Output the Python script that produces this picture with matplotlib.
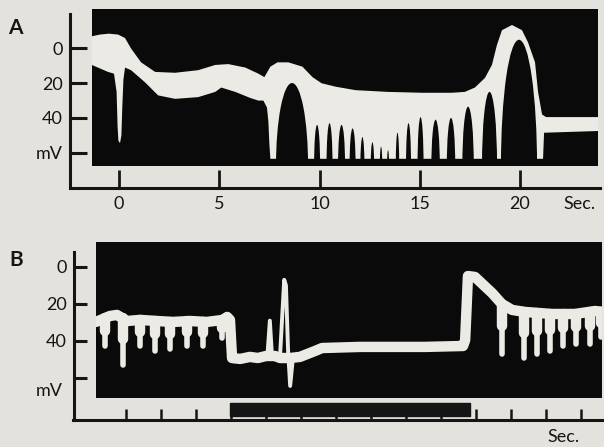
import matplotlib.pyplot as plt
from matplotlib.patches import Rectangle, Ellipse
import numpy as np

plt.rcParams['font.family'] = ['Lato', 'DejaVu Sans']

BG = '#e4e2dc'
INK = '#151515'
TRACE = '#eceae4'
SCREEN = '#0a0a0a'

# ---- panel A : time (s) and potential (mV, 0 at top) ----
# upper edge of the bright trace
a_up_t = [-1.35, -0.95, -0.5, -0.05, 0.3, 0.6, 1.1, 1.8, 2.8, 3.95, 4.8, 5.45,
          6.3, 6.95, 7.25, 7.55, 7.9, 8.45, 9.15, 9.65, 10.1, 10.8, 11.8, 13.4,
          15.1, 15.9, 16.6, 17.25, 17.75, 18.25, 18.6, 18.85, 19.1, 19.6, 20.1,
          20.4, 20.75, 20.9, 21.1, 21.3, 23.9]
a_up_mv = [-7, -8, -8.5, -8, -6, 0, 8, 13.5, 14, 12.5, 9.5, 9,
           11, 14.5, 16.5, 10.5, 8, 8, 10.5, 16.5, 20, 22, 24, 25,
           25.5, 25.5, 25.5, 25, 22.5, 17, 9.5, -2, -10.5, -13.5, -10.5,
           -3.5, 8, 25, 38, 39.5, 39.5]
# lower edge of the bright trace (spikes included)
a_lo_t = [-1.35, -0.55, -0.25, -0.12, -0.07, -0.03, 0.05, 0.12, 0.16, 0.22,
          0.3, 0.6, 1.3, 1.95, 2.8, 3.95, 4.8, 5.1, 5.8, 6.55, 6.95, 7.2,
          7.38, 7.45, 7.5, 7.55, 21.15, 21.2, 23.9]
a_lo_mv = [9.5, 13.5, 14.5, 25, 45, 53, 54.5, 50, 35, 18,
           11, 12.5, 19.5, 27, 29, 28, 25, 22.5, 25, 28.5, 30, 30,
           34, 42, 55, 63.5, 63.5, 48.5, 47.5]
# dark gaps between the repetitive spikes: centre, width, top
arch_t = [8.63, 9.88, 10.5, 11.1, 11.65, 12.14, 12.64, 13.07, 13.42, 13.89,
          14.44, 15.04, 15.79, 16.56, 17.41, 18.48, 19.95]
arch_w = [1.6, 0.3, 0.3, 0.35, 0.3, 0.2, 0.17, 0.12, 0.1, 0.17,
          0.25, 0.3, 0.42, 0.42, 0.57, 0.75, 1.8]
arch_top = [19.9, 44, 43, 44, 46, 51, 54, 56.5, 58.5, 48.5,
            43, 39.5, 41, 40, 33.5, 25, -5]
a_xticks = [0, 5, 10, 15, 20]
a_yticks = [0, 20, 40, 60]
a_ylabels = ['0', '20', '40', 'mV']

# ---- panel B ----
b_t = [-0.86, -0.46, -0.26, 0.03, 0.4, 0.89, 1.34, 1.83, 2.31, 2.77, 2.89,
       2.97, 3.03, 3.26, 3.54, 3.77, 4.0, 4.26, 4.4, 4.69, 4.97, 5.4, 5.6,
       6.69, 8.54, 9.63, 9.69, 9.77, 9.97, 10.46, 10.74, 11.03, 11.4, 12.17,
       12.83, 13.4, 13.66]
b_mv = [29.7, 26.5, 25.9, 29.2, 28.6, 29.2, 29.7, 29.2, 29.7, 28.6, 27.0,
        28.6, 49.2, 49.7, 48.6, 49.2, 48.1, 48.1, 49.2, 49.2, 48.6, 45.4, 43.8,
        43.2, 43.2, 42.7, 39.5, 4.9, 5.4, 14.1, 20.0, 23.2, 24.3, 25.4,
        25.4, 23.8, 24.3]
b_tooth_t = [-0.6, -0.09, 0.4, 0.83, 1.26, 1.74, 2.2, 2.74,
             10.74, 11.37, 11.74, 12.11, 12.49, 12.86, 13.26, 13.57]
b_tooth_mv = [43.8, 54.1, 43.8, 46.5, 45.4, 43.8, 43.8, 39.5,
              48.1, 50.3, 48.1, 46.5, 43.8, 42.7, 42.7, 38.9]
b_spike1_t = [4.04, 4.11, 4.17]
b_spike1_mv = [48, 29, 48]
b_spike2_t = [4.4, 4.52, 4.57, 4.63, 4.69, 4.77]
b_spike2_mv = [48.5, 6.9, 10, 45, 64.3, 49]
b_stim = (2.97, 9.83)
b_xticks = list(range(14))
b_yticks = [0, 20, 40, 60]
b_ylabels = ['0', '20', '40', '']

fig = plt.figure(figsize=(6.04, 4.47), dpi=100, facecolor=BG)
axA = fig.add_axes([70 / 604, 1 - 188 / 447, 530 / 604, 179 / 447])
axB = fig.add_axes([73.5 / 604, 1 - 420 / 447, 530.5 / 604, 178 / 447])


def frame(ax):
    ax.set_facecolor('none')
    for s in ['top', 'right']:
        ax.spines[s].set_visible(False)
    for s in ['left', 'bottom']:
        ax.spines[s].set_linewidth(2.2)
        ax.spines[s].set_color(INK)


# panel A
frame(axA)
axA.set_xlim(-2.444, 23.99)
axA.set_ylim(80.3, -22.7)
axA.spines['left'].set_bounds(-19.9, 80.3)
screenA = Rectangle((-1.35, -22.7), 25.24, 90.3, fc=SCREEN, ec='none', zorder=1)
axA.add_patch(screenA)
polys = axA.fill(np.r_[a_up_t, a_lo_t[::-1]], np.r_[a_up_mv, a_lo_mv[::-1]],
                 color=TRACE, lw=0, zorder=2)
for p in polys:
    p.set_clip_path(screenA)
for t, w, top in zip(arch_t, arch_w, arch_top):
    e = Ellipse((t, 67.6), w, 2 * (67.6 - top), fc=SCREEN, ec='none', zorder=3)
    axA.add_patch(e)
    e.set_clip_path(screenA)
axA.set_xticks(a_xticks, [str(v) for v in a_xticks])
axA.set_yticks(a_yticks, a_ylabels)
axA.tick_params(axis='x', direction='in', length=13, width=2, pad=6,
                labelsize=13, color=INK, labelcolor=INK)
axA.tick_params(axis='y', direction='in', length=12, width=2.2, pad=5,
                labelsize=13, color=INK, labelcolor=INK)

# panel B
frame(axB)
axB.set_xlim(-1.5, 13.657)
axB.set_ylim(82.7, -13.5)
axB.spines['left'].set_bounds(-8.1, 82.7)
screenB = Rectangle((-0.857, -13.5), 14.457, 84.3, fc=SCREEN, ec='none', zorder=1)
axB.add_patch(screenB)
ln, = axB.plot(b_t, b_mv, color=TRACE, lw=7.5, solid_joinstyle='round',
               solid_capstyle='round', zorder=2)
ln.set_clip_path(screenB)
base = np.interp(b_tooth_t, b_t, b_mv)
tip = np.array(b_tooth_mv) - 1.2
vl = axB.vlines(b_tooth_t, base, tip, color=TRACE, lw=4, capstyle='round',
                zorder=2)
vl.set_clip_path(screenB)
# broader roots of the teeth
fl = axB.vlines(b_tooth_t, base, base + 0.45 * (tip - base), color=TRACE,
                lw=7.5, capstyle='round', zorder=2)
fl.set_clip_path(screenB)
for st, sv in [(b_spike1_t, b_spike1_mv), (b_spike2_t, b_spike2_mv)]:
    sp, = axB.plot(st, sv, color=TRACE, lw=2.8, solid_joinstyle='round',
                   solid_capstyle='round', zorder=2)
    sp.set_clip_path(screenB)
axB.broken_barh([(b_stim[0], b_stim[1] - b_stim[0])], (73.5, 7), color=INK,
                zorder=3)
axB.set_xticks(b_xticks, [''] * len(b_xticks))
axB.set_yticks(b_yticks, b_ylabels)
axB.tick_params(axis='x', direction='in', length=8, width=1.8, color=INK)
axB.tick_params(axis='y', direction='in', length=9.5, width=2.2, pad=5,
                labelsize=13, color=INK, labelcolor=INK)
axB.annotate('mV', xy=(0, 67), xycoords=('axes fraction', 'data'),
             xytext=(-8, 0), textcoords='offset points', ha='right',
             va='center', fontsize=13, color=INK)

fig.text(579 / 604, 1 - 204 / 447, 'Sec.', ha='center', va='center',
         fontsize=13, color=INK)
fig.text(563 / 604, 1 - 437 / 447, 'Sec.', ha='center', va='center',
         fontsize=13, color=INK)
fig.text(15 / 604, 1 - 28 / 447, 'A', ha='center', va='center', fontsize=15,
         fontweight='bold', color=INK)
fig.text(16 / 604, 1 - 260 / 447, 'B', ha='center', va='center', fontsize=15,
         fontweight='bold', color=INK)

fig.savefig('out.png', dpi=100, facecolor=BG)
